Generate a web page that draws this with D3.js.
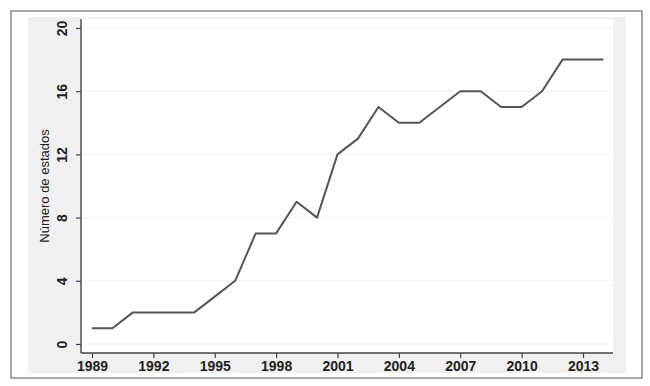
<!DOCTYPE html>
<html><head><meta charset="utf-8">
<script src="https://cdn.jsdelivr.net/npm/d3@7"></script>
<style>body{margin:0;background:#fff}svg{display:block}</style>
</head><body>
<svg id="c" width="650" height="386"></svg>
<script>
const years = [1989,1990,1991,1992,1993,1994,1995,1996,1997,1998,1999,2000,2001,2002,2003,2004,2005,2006,2007,2008,2009,2010,2011,2012,2013,2014];
const estados = [1,1,2,2,2,2,3,4,7,7,9,8,12,13,15,14,14,15,16,16,15,15,16,18,18,18];
const xTicks = [1989,1992,1995,1998,2001,2004,2007,2010,2013];
const yTicks = [0,4,8,12,16,20];
const yTitle = "Número de estados";

const svg = d3.select("#c");
// outer frame
svg.append("rect").attr("x",11).attr("y",11).attr("width",631).attr("height",367)
  .attr("fill","#fff").attr("stroke","#8a8a8a").attr("stroke-width",1.5);
// graph region
svg.append("rect").attr("x",28).attr("y",17).attr("width",598).attr("height",356).attr("fill","#f0f0f0");
// plot region
const L=81, R=613, T=19, B=353;
svg.append("rect").attr("x",L).attr("y",T).attr("width",R-L).attr("height",B-T).attr("fill","#fff");

const x = d3.scaleLinear().domain([1989,2013]).range([92,583]);
const y = d3.scaleLinear().domain([0,20]).range([344,28]);

// grid
svg.append("g").selectAll("line").data(yTicks).join("line")
  .attr("x1",L+1).attr("x2",R).attr("y1",d=>y(d)).attr("y2",d=>y(d))
  .attr("stroke","#f0f0f0").attr("stroke-width",1);

const font = "'Liberation Sans', Arial, sans-serif";
// y axis
const ya = svg.append("g").attr("transform",`translate(${L},0)`)
  .call(d3.axisLeft(y).tickValues(yTicks).tickSize(5).tickSizeOuter(0).tickPadding(6));
ya.select(".domain").remove();
ya.selectAll(".tick line").attr("stroke","#444").attr("stroke-width",1.2);
ya.selectAll(".tick text").attr("transform",function(d){return `rotate(-90)`;})
  .attr("x",0).attr("y",-14).attr("dy","0").attr("text-anchor","middle")
  .style("font-family",font).style("font-size","14px").style("font-weight","bold").attr("fill","#222");
svg.append("line").attr("x1",L).attr("x2",L).attr("y1",T).attr("y2",B).attr("stroke","#444").attr("stroke-width",1.4);

// x axis
const xa = svg.append("g").attr("transform",`translate(0,${B})`)
  .call(d3.axisBottom(x).tickValues(xTicks).tickFormat(d3.format("d")).tickSize(5).tickPadding(3));
xa.select(".domain").remove();
xa.selectAll(".tick line").attr("stroke","#444").attr("stroke-width",1.2);
xa.selectAll(".tick text").style("font-family",font).style("font-size","14px").style("font-weight","bold").attr("fill","#222");
svg.append("line").attr("x1",L).attr("x2",R).attr("y1",B).attr("y2",B).attr("stroke","#444").attr("stroke-width",1.4);

// title
svg.append("text").attr("transform",`translate(49,${(T+B)/2}) rotate(-90)`)
  .attr("text-anchor","middle").style("font-family",font).style("font-size","13px").attr("fill","#222").text(yTitle);

// line
svg.append("path").datum(years.map((d,i)=>[d,estados[i]]))
  .attr("fill","none").attr("stroke","#555").attr("stroke-width",2).attr("stroke-linejoin","round")
  .attr("d",d3.line().x(d=>x(d[0])).y(d=>y(d[1])));
</script>
</body></html>
